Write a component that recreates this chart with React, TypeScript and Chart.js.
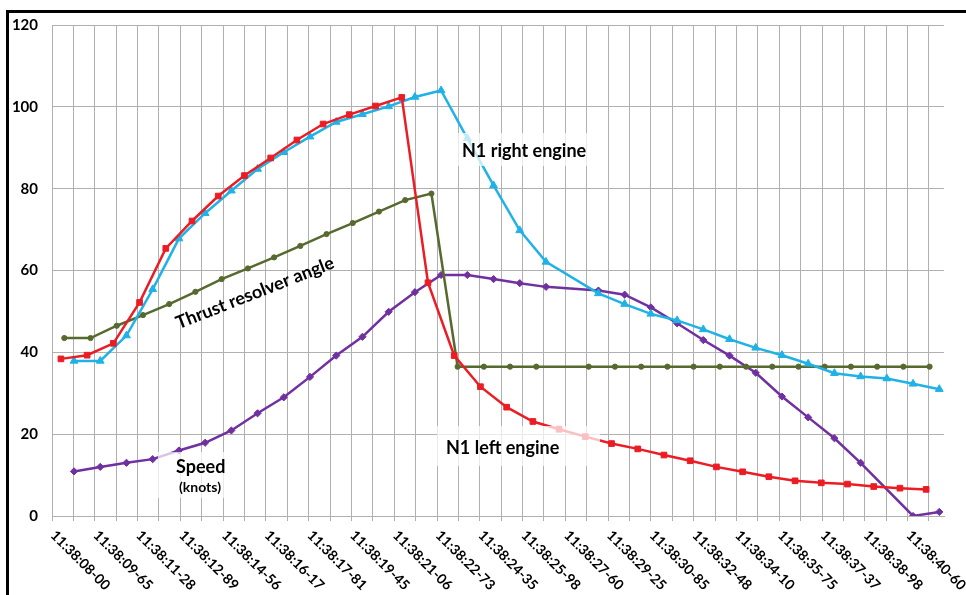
import React, { useEffect, useRef } from "react";
import { Chart, registerables } from "chart.js";

Chart.register(...registerables);

// ---- Axis tick labels (every other vertical grid line) ----
const timeLabels = [
  "11:38:08-00", "11:38:09-65", "11:38:11-28", "11:38:12-89", "11:38:14-56",
  "11:38:16-17", "11:38:17-81", "11:38:19-45", "11:38:21-06", "11:38:22-73",
  "11:38:24-35", "11:38:25-98", "11:38:27-60", "11:38:29-25", "11:38:30-85",
  "11:38:32-48", "11:38:34-10", "11:38:35-75", "11:38:37-37", "11:38:38-98",
  "11:38:40-60",
];
const yTicks = [0, 20, 40, 60, 80, 100, 120];

// time axis (seconds after 11:38:00)
const AXIS_START_S = 8.0;
const AXIS_END_S = 42.02;
const GRID_STEP_S = 0.8158; // one vertical grid line
const GRID_LINES = 42;

// ---- Series (one sample per second, each with its own first sample time) ----
const SAMPLE_STEP_S = 1;

const n1LeftStart = 8.34;
const n1Left = [
  38.4, 39.3, 42.2, 52.2, 65.4, 72.1, 78.2, 83.2, 87.5, 91.9,
  95.8, 98.1, 100.2, 102.3, 57.0, 39.2, 31.6, 26.6, 23.1, 21.2,
  19.4, 17.7, 16.4, 14.9, 13.5, 12.0, 10.8, 9.6, 8.6, 8.1,
  7.8, 7.2, 6.8, 6.5,
];

const n1RightStart = 8.84;
const n1Right = [
  37.9, 37.9, 44.1, 55.4, 67.8, 74.0, 79.5, 84.8, 88.9, 92.7,
  96.3, 98.2, 100.1, 102.4, 104.0, 92.3, 80.8, 69.8, 62.1, null,
  54.4, 51.8, 49.4, 47.8, 45.6, 43.2, 41.1, 39.3, 37.2, 34.9,
  34.1, 33.6, 32.3, 31.0,
];

const thrustStart = 8.47;
const thrustResolver = [
  43.5, 43.5, 46.5, 49.1, 51.8, 54.8, 57.9, 60.5, 63.2, 66.0,
  68.9, 71.6, 74.4, 77.2, 78.8, 36.5, 36.5, 36.5, 36.5, null,
  36.5, 36.5, 36.5, 36.5, 36.5, 36.5, 36.5, 36.5, 36.5, 36.5,
  36.5, 36.5, 36.5, 36.5,
];

const speedStart = 8.84;
const speedKnots = [
  10.9, 12.0, 13.0, 13.9, 16.0, 17.9, 20.9, 25.1, 29.0, 34.0,
  39.2, 43.8, 49.9, 54.7, 58.9, 58.9, 57.9, 56.9, 56.0, null,
  55.1, 54.1, 51.0, 47.1, 43.0, 39.2, 35.0, 29.2, 24.1, 19.0,
  13.0, null, 0.0, 1.0,
];

const toPoints = (start: number, values: (number | null)[]) =>
  values.map((v, i) => ({ x: start + i * SAMPLE_STEP_S, y: v }));

const GRID = "#b0b0b0";
const FONT = "Lato, 'Open Sans', sans-serif";

const overlay = {
  id: "overlay",
  afterDatasetsDraw(chart: any) {
    const ctx: CanvasRenderingContext2D = chart.ctx;
    ctx.save();
    // semi-transparent label boxes
    ctx.fillStyle = "rgba(255,255,255,0.72)";
    ctx.fillRect(456, 133, 152, 33);
    ctx.fillRect(437, 426, 163, 40);
    ctx.fillRect(158, 452, 84, 46);

    ctx.fillStyle = "#000";
    ctx.textBaseline = "alphabetic";
    ctx.textAlign = "left";
    ctx.font = `bold 18px ${FONT}`;
    ctx.fillText("N1 right engine", 462, 157);
    ctx.fillText("N1 left engine", 446, 454);
    ctx.fillText("Speed", 176, 473);
    ctx.font = `bold 14px ${FONT}`;
    ctx.fillText("(knots)", 179, 492);

    ctx.save();
    ctx.translate(255, 293);
    ctx.rotate((-21.5 * Math.PI) / 180);
    ctx.font = `bold 18px ${FONT}`;
    ctx.textAlign = "center";
    ctx.textBaseline = "middle";
    ctx.fillText("Thrust resolver angle", 0, 0);
    ctx.restore();

    ctx.restore();
  },
  afterDraw(chart: any) {
    const ctx: CanvasRenderingContext2D = chart.ctx;
    const xs = chart.scales.x;
    const bottom = chart.chartArea.bottom;
    ctx.save();
    ctx.fillStyle = "#000";
    ctx.font = `bold 14px ${FONT}`;
    ctx.textAlign = "left";
    ctx.textBaseline = "middle";
    timeLabels.forEach((lab, k) => {
      const px = xs.getPixelForValue(AXIS_START_S + 2 * k * GRID_STEP_S);
      ctx.save();
      ctx.translate(px + 1, bottom + 17);
      ctx.rotate(Math.PI / 4);
      ctx.fillText(lab, 0, 0);
      ctx.restore();
    });
    ctx.restore();
  },
};

export default function App() {
  const ref = useRef<HTMLCanvasElement | null>(null);

  useEffect(() => {
    if (!ref.current) return;
    const line = (label: string, data: any[], color: string, style: string, radius: number) => ({
      label,
      data,
      borderColor: color,
      backgroundColor: color,
      borderWidth: 2.5,
      pointStyle: style,
      pointRadius: radius,
      pointBorderWidth: 1,
      pointBorderColor: color,
      pointBackgroundColor: color,
      tension: 0,
      spanGaps: true,
      fill: false,
    });

    const chart = new Chart(ref.current, {
      type: "line",
      data: {
        datasets: [
          line("N1 left engine", toPoints(n1LeftStart, n1Left), "#ec1c24", "rect", 4),
          line("N1 right engine", toPoints(n1RightStart, n1Right), "#1fb2e6", "triangle", 4.5),
          line("Thrust resolver angle", toPoints(thrustStart, thrustResolver), "#56692e", "circle", 2.6),
          line("Speed (knots)", toPoints(speedStart, speedKnots), "#7030a0", "rectRot", 3.6),
        ],
      },
      options: {
        responsive: false,
        animation: false,
        devicePixelRatio: 1,
        layout: { padding: { top: 25, right: 22, left: 0, bottom: 0 } },
        plugins: { legend: { display: false }, tooltip: { enabled: false } },
        scales: {
          x: {
            type: "linear",
            min: AXIS_START_S,
            max: AXIS_END_S,
            afterBuildTicks: (scale: any) => {
              scale.ticks = Array.from({ length: GRID_LINES }, (_, j) => ({
                value: AXIS_START_S + j * GRID_STEP_S,
              }));
            },
            afterFit: (scale: any) => {
              scale.height = 79;
            },
            ticks: { display: false, autoSkip: false },
            grid: { color: GRID, lineWidth: 1, drawTicks: true, tickLength: 5 },
            border: { color: GRID, width: 1 },
          },
          y: {
            min: 0,
            max: 120,
            afterBuildTicks: (scale: any) => {
              scale.ticks = yTicks.map((v) => ({ value: v }));
            },
            afterFit: (scale: any) => {
              scale.width = 52;
            },
            ticks: {
              color: "#000",
              padding: 14,
              font: { family: FONT, size: 15, weight: "bold" },
            },
            grid: { color: GRID, lineWidth: 1, drawTicks: false },
            border: { color: GRID, width: 1 },
          },
        },
      },
      plugins: [overlay],
    } as any);
    return () => chart.destroy();
  }, []);

  return (
    <div
      style={{
        position: "fixed",
        left: 0,
        top: 0,
        width: 966,
        height: 595,
        overflow: "hidden",
        background: "#fff",
      }}
    >
      <canvas ref={ref} width={966} height={595} style={{ display: "block" }} />
      <div
        style={{
          position: "absolute",
          left: 6,
          top: 10,
          width: 2000,
          height: 2000,
          border: "3px solid #000",
          pointerEvents: "none",
        }}
      />
    </div>
  );
}
